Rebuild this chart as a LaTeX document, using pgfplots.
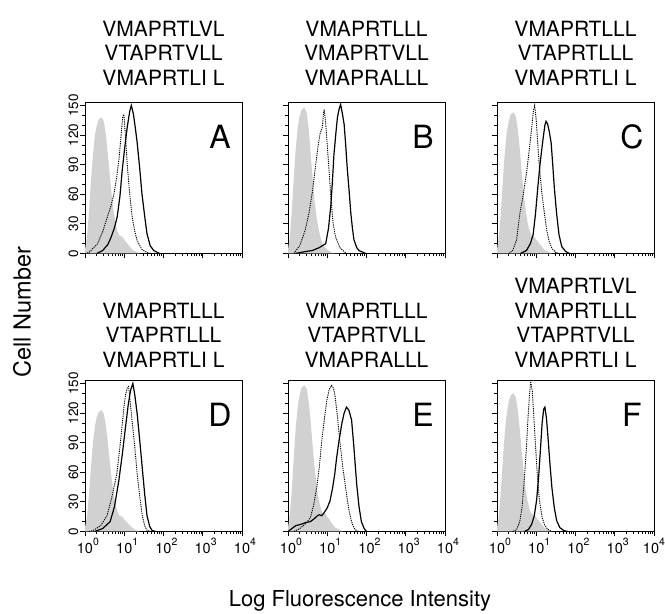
\documentclass[border=0pt]{standalone}
\usepackage{fontspec}
\setmainfont{TeX Gyre Heros}
\usepackage{pgfplots}
\usepackage{pgfplotstable}
\pgfplotsset{compat=1.18}

\pgfplotstableread{
u    gA  gB  gC  gD  gE  gF
0.00 4   4   4   4   4   4
0.05 17  18  17  15  18  17
0.10 41  45  43  37  44  42
0.15 72  78  74  64  77  73
0.20 99  108 103 89  107 101
0.25 119 128 123 106 127 120
0.30 130 140 134 116 139 132
0.35 136 146 141 121 146 138
0.42 138 148 143 123 148 140
0.48 134 142 139 119 144 136
0.53 121 125 126 108 130 123
0.58 102 100 106 91  110 104
0.63 80  74  83  71  86  81
0.68 59  52  61  53  64  60
0.73 43  36  44  38  46  43
0.78 30  25  31  27  33  31
0.83 22  16  23  20  24  22
0.88 18  10  19  16  19  18
0.95 17  6   17  15  18  17
1.00 14  4   14  12  15  14
1.06 11  2   11  10  12  11
1.12 8   1   8   7   8   8
1.20 4   0   4   4   4   4
1.30 2   0   2   1   2   2
1.40 0   0   0   0   0   0
}\grayT

\pgfplotstableread{
u y
0.00 0
0.10 1
0.32 10
0.45 22
0.57 37
0.66 48
0.74 61
0.81 78
0.87 97
0.92 120
0.96 138
0.99 141
1.03 120
1.08 88
1.14 60
1.20 37
1.27 22
1.33 13
1.45 4
1.58 1
1.70 0
}\dotA
\pgfplotstableread{
u y
0.30 0
0.45 3
0.58 9
0.66 16
0.75 26
0.82 37
0.89 58
0.95 85
1.02 110
1.08 129
1.14 144
1.18 150
1.23 142
1.28 128
1.33 112
1.39 88
1.45 61
1.52 38
1.58 20
1.66 8
1.75 3
1.90 0
}\solA
\pgfplotstableread{
u y
0.15 0
0.30 8
0.44 24
0.53 40
0.62 62
0.70 88
0.77 110
0.82 122
0.87 127
0.90 140
0.92 146
0.96 132
1.00 110
1.05 82
1.09 58
1.15 30
1.21 17
1.32 6
1.43 2
1.50 0
}\dotB
\pgfplotstableread{
u y
0.19 0
0.45 2
0.62 3
0.80 6
0.96 10
1.03 25
1.09 48
1.13 72
1.17 100
1.22 122
1.26 138
1.30 146
1.34 151
1.38 143
1.43 131
1.47 110
1.51 86
1.56 62
1.60 41
1.64 26
1.68 14
1.75 6
1.81 3
1.98 0
}\solB
\pgfplotstableread{
u y
0.30 0
0.40 3
0.50 14
0.58 40
0.67 60
0.75 81
0.82 104
0.88 126
0.93 145
0.96 150
1.00 135
1.04 110
1.08 88
1.14 62
1.21 40
1.27 23
1.33 12
1.40 5
1.50 1
1.60 0
}\dotC
\pgfplotstableread{
u y
0.60 0
0.75 3
0.85 10
0.92 19
0.98 40
1.04 67
1.10 92
1.17 115
1.22 130
1.25 134
1.29 131
1.33 124
1.38 112
1.42 90
1.46 67
1.52 40
1.58 19
1.65 7
1.75 2
1.85 0
}\solC
\pgfplotstableread{
u y
0.10 0
0.21 1
0.40 6
0.56 16
0.68 34
0.81 58
0.88 82
0.94 105
0.99 125
1.03 138
1.08 146
1.11 147
1.15 132
1.20 112
1.27 85
1.33 58
1.40 34
1.46 16
1.52 6
1.58 1
1.70 0
}\dotD
\pgfplotstableread{
u y
0.25 0
0.45 3
0.64 10
0.75 25
0.86 51
0.95 78
1.03 105
1.10 128
1.16 143
1.22 150
1.27 138
1.33 119
1.40 90
1.46 64
1.52 38
1.58 16
1.65 5
1.71 1
1.80 0
}\solD
\pgfplotstableread{
u y
0.15 0
0.30 3
0.45 8
0.57 14
0.65 26
0.73 44
0.80 66
0.86 92
0.93 115
0.99 133
1.05 144
1.11 148
1.16 145
1.20 137
1.26 116
1.32 92
1.40 64
1.49 38
1.56 20
1.62 10
1.70 2
1.80 0
}\dotE
\pgfplotstableread{
u y
0.00 0
0.10 3
0.20 6
0.31 7
0.45 9
0.57 10
0.67 13
0.75 16
0.80 17
0.86 16
0.92 19
1.00 24
1.07 31
1.14 45
1.19 58
1.24 75
1.30 92
1.37 109
1.43 120
1.49 126
1.55 123
1.62 113
1.68 85
1.75 48
1.81 25
1.87 10
1.94 3
2.00 0
}\solE
\pgfplotstableread{
u y
0.40 0
0.50 2
0.58 10
0.64 25
0.70 55
0.75 85
0.79 115
0.83 140
0.86 152
0.90 142
0.94 115
0.98 88
1.03 55
1.08 32
1.15 14
1.22 6
1.30 2
1.40 0
}\dotF
\pgfplotstableread{
u y
0.70 0
0.80 2
0.88 7
0.95 16
1.01 32
1.06 55
1.11 85
1.15 110
1.19 124
1.22 126
1.26 115
1.30 95
1.35 68
1.40 44
1.46 24
1.52 11
1.60 4
1.70 1
1.80 0
}\solF

\newcommand{\tl}{\fontsize{14.5}{14.5}\selectfont}
\newcommand{\yl}{\fontsize{13.5}{13.5}\selectfont}
\newcommand{\ex}[1]{\rlap{\raisebox{8.5pt}{\fontsize{10.5}{10.5}\selectfont #1}}}

\pgfplotsset{
  flowpanel/.style={
    scale only axis, width=157pt, height=151pt, anchor=north west,
    xmin=1, xmax=10000, ymin=0, ymax=153,
    xtick={1,10,100,1000,10000},
    minor xtick={2,3,4,5,6,7,8,9,20,30,40,50,60,70,80,90,200,300,400,500,600,700,800,900,2000,3000,4000,5000,6000,7000,8000,9000},
    ytick={0,30,60,90,120,150}, minor y tick num=2,
    tick align=outside, xtick pos=left, ytick pos=left,
    major tick length=5pt, minor tick length=3pt,
    every tick/.append style={black, line width=0.8pt},
    axis line style={line width=0.9pt},
    xticklabels={}, yticklabels={},
    xticklabel style={inner sep=1pt},
    yticklabel style={rotate=90, anchor=south, inner sep=1.5pt},
  },
  ylab/.style={yticklabels={{\yl 0},{\yl 30},{\yl 60},{\yl 90},{\yl 120},{\yl 150}}},
  xlab/.style={xticklabels={{\tl 10\ex{0}},{\tl 10\ex{1}},{\tl 10\ex{2}},{\tl 10\ex{3}},{\tl 10\ex{4}}}},
  xlabF/.style={xticklabels={{\tl 10\ex{0}},{\tl 10\ex{1}},{\tl 10\ex{2}},{\tl 10\ex{3}},{\tl\hspace*{-6pt}10\ex{4}}}},
  grayfill/.style={fill=black!18, draw=none},
  dotline/.style={black, dash pattern=on 1.2pt off 1pt, line width=0.9pt},
  solline/.style={black, line width=1.2pt},
}
\newcommand{\letter}[1]{\node[font=\fontsize{32}{32}\selectfont] at (rel axis cs:0.86,0.77) {#1};}
\tikzset{ttl/.style={anchor=south, align=center, inner sep=0pt, font=\fontsize{21}{24.5}\selectfont}}

\begin{document}
\begin{tikzpicture}
\useasboundingbox (0pt,0pt) rectangle (665pt,614pt);

% Row 1
\begin{axis}[xmode=log, flowpanel, ylab, name=pA, at={(85pt,511.5pt)}]
\addplot[grayfill] table[x expr=10^\thisrow{u}, y=gA] {\grayT} \closedcycle;
\addplot[dotline] table[x expr=10^\thisrow{u}, y=y] {\dotA};
\addplot[solline] table[x expr=10^\thisrow{u}, y=y] {\solA};
\letter{A}
\end{axis}
\begin{axis}[xmode=log, flowpanel, name=pB, at={(288pt,511.5pt)}]
\addplot[grayfill] table[x expr=10^\thisrow{u}, y=gB] {\grayT} \closedcycle;
\addplot[dotline] table[x expr=10^\thisrow{u}, y=y] {\dotB};
\addplot[solline] table[x expr=10^\thisrow{u}, y=y] {\solB};
\letter{B}
\end{axis}
\begin{axis}[xmode=log, flowpanel, name=pC, at={(497pt,511.5pt)}]
\addplot[grayfill] table[x expr=10^\thisrow{u}, y=gC] {\grayT} \closedcycle;
\addplot[dotline] table[x expr=10^\thisrow{u}, y=y] {\dotC};
\addplot[solline] table[x expr=10^\thisrow{u}, y=y] {\solC};
\letter{C}
\end{axis}

% Row 2
\begin{axis}[xmode=log, flowpanel, ylab, xlab, name=pD, at={(85pt,233.5pt)}]
\addplot[grayfill] table[x expr=10^\thisrow{u}, y=gD] {\grayT} \closedcycle;
\addplot[dotline] table[x expr=10^\thisrow{u}, y=y] {\dotD};
\addplot[solline] table[x expr=10^\thisrow{u}, y=y] {\solD};
\letter{D}
\end{axis}
\begin{axis}[xmode=log, flowpanel, xlab, name=pE, at={(288pt,233.5pt)}]
\addplot[grayfill] table[x expr=10^\thisrow{u}, y=gE] {\grayT} \closedcycle;
\addplot[dotline] table[x expr=10^\thisrow{u}, y=y] {\dotE};
\addplot[solline] table[x expr=10^\thisrow{u}, y=y] {\solE};
\letter{E}
\end{axis}
\begin{axis}[xmode=log, flowpanel, xlabF, name=pF, at={(497pt,233.5pt)}]
\addplot[grayfill] table[x expr=10^\thisrow{u}, y=gF] {\grayT} \closedcycle;
\addplot[dotline] table[x expr=10^\thisrow{u}, y=y] {\dotF};
\addplot[solline] table[x expr=10^\thisrow{u}, y=y] {\solF};
\letter{F}
\end{axis}

% Titles
\node[ttl] at ([yshift=17pt]pA.north) {VMAPRTLVL\\VTAPRTVLL\\VMAPRTLI L};
\node[ttl] at ([yshift=17pt]pB.north) {VMAPRTLLL\\VMAPRTVLL\\VMAPRALLL};
\node[ttl] at ([yshift=17pt]pC.north) {VMAPRTLLL\\VTAPRTLLL\\VMAPRTLI L};
\node[ttl] at ([yshift=13pt]pD.north) {VMAPRTLLL\\VTAPRTLLL\\VMAPRTLI L};
\node[ttl] at ([yshift=13pt]pE.north) {VMAPRTLLL\\VTAPRTVLL\\VMAPRALLL};
\node[ttl] at ([yshift=13pt]pF.north) {VMAPRTLVL\\VMAPRTLLL\\VTAPRTVLL\\VMAPRTLI L};

% Axis labels
\node[rotate=90, font=\fontsize{23.5}{23.5}\selectfont] at (22pt,302pt) {Cell Number};
\node[anchor=base, font=\fontsize{22}{22}\selectfont] at (360pt,7pt) {Log Fluorescence Intensity};
\end{tikzpicture}
\end{document}
